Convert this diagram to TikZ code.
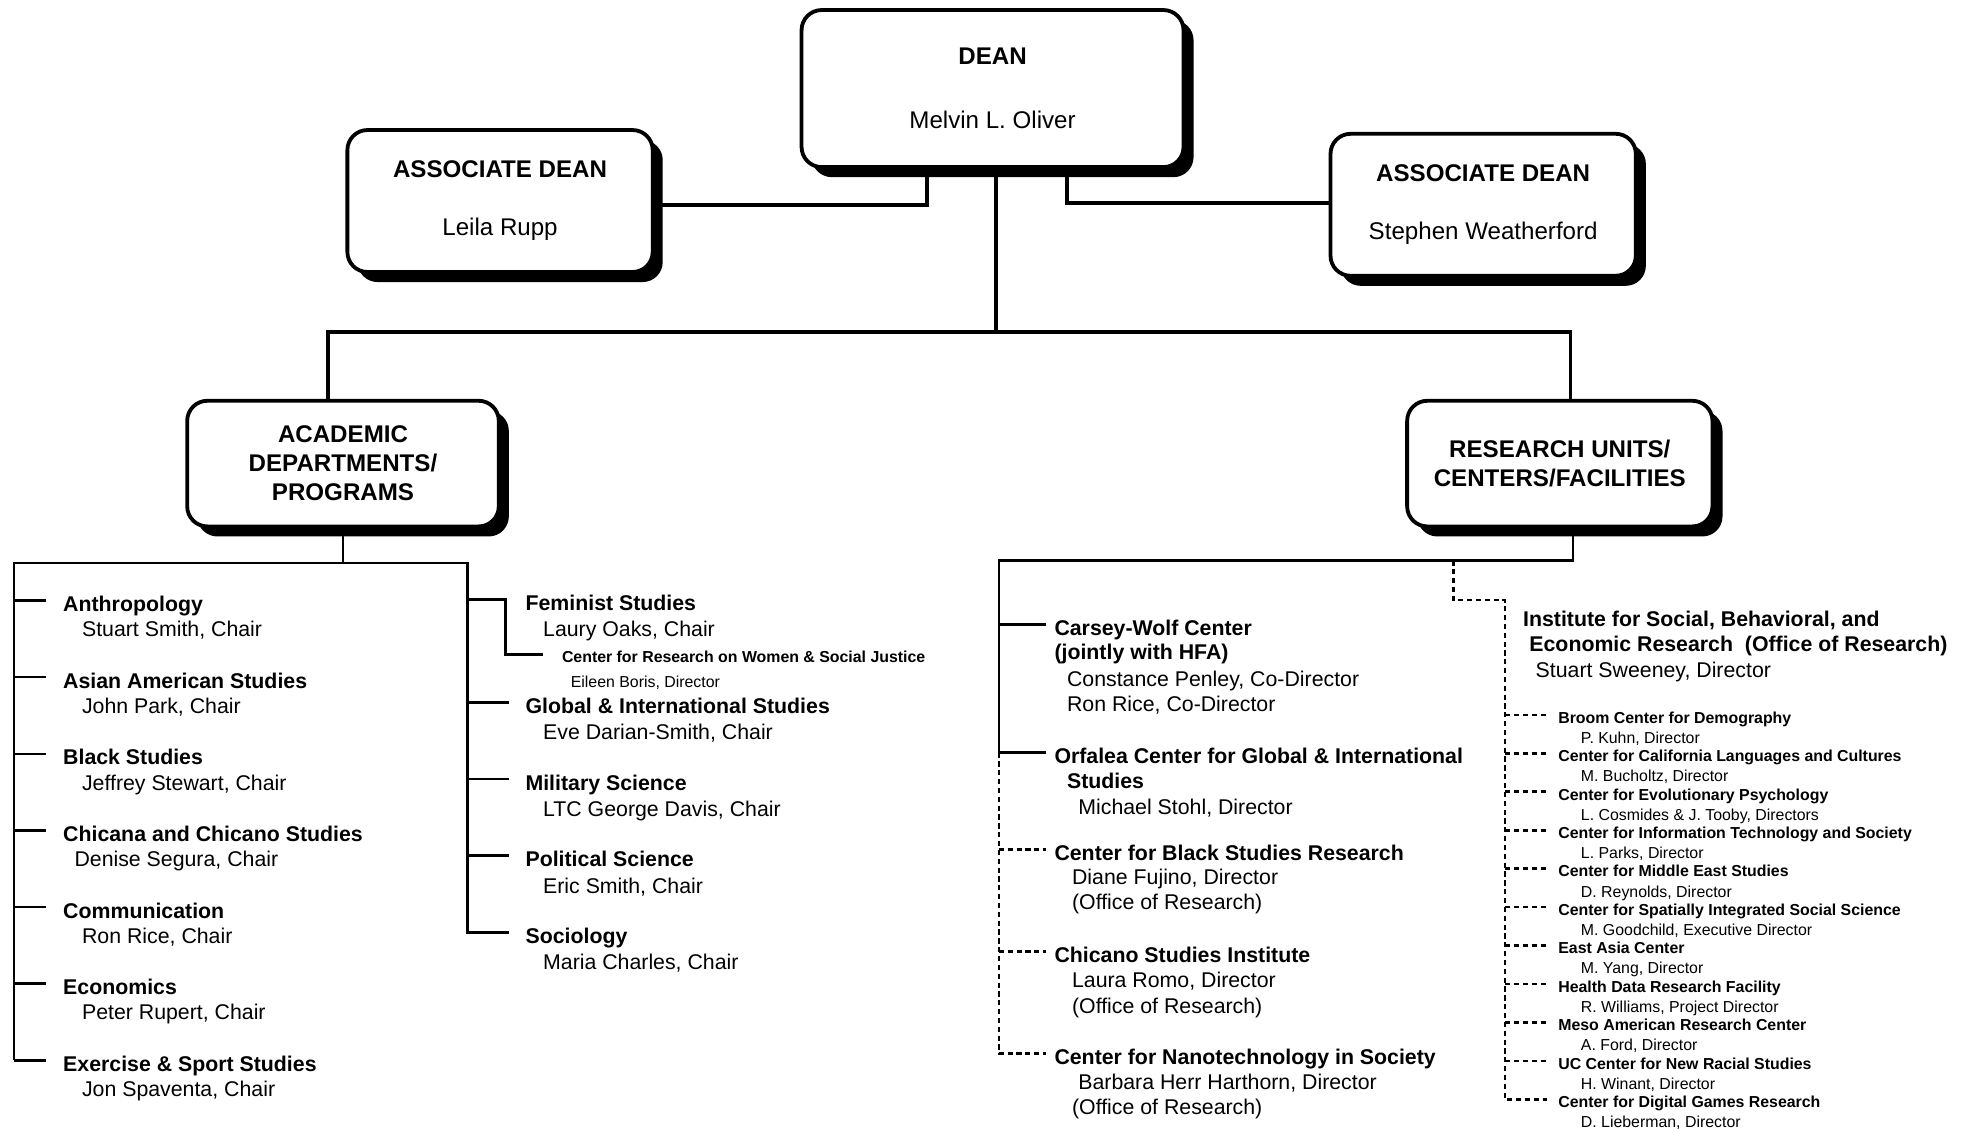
\documentclass[tikz,border=0pt]{standalone}
\usepackage{fontspec}
\setmainfont{Liberation Sans}
\usetikzlibrary{shadows,calc}

\begin{document}
\begin{tikzpicture}[x=0.625pt, y=-0.625pt,
  box/.style={draw, line width=1.9pt, fill=white, rounded corners=10pt, align=center, inner sep=0pt,
    font=\fontsize{12}{14.4}\selectfont,
    drop shadow={shadow xshift=5pt, shadow yshift=-5pt, fill=black, opacity=1}},
  link/.style={line width=1.9pt},
  tree/.style={line width=1.3pt},
  dotline/.style={line width=1.3pt, dash pattern=on 2.6pt off 1.8pt},
  unitname/.style={anchor=west, inner sep=0pt, text height=11pt, text depth=0pt, font=\fontsize{10.6}{12.7}\selectfont\bfseries},
  person/.style={unitname, font=\fontsize{10.6}{12.7}\selectfont},
  smallunit/.style={anchor=west, inner sep=0pt, text height=8.2pt, text depth=0pt, font=\fontsize{7.9}{9.5}\selectfont\bfseries},
  smallperson/.style={smallunit, font=\fontsize{7.9}{9.5}\selectfont}]
\useasboundingbox (0,0) rectangle (1568,898);
\pgfmathsetlengthmacro\unitlen{0.625pt};

\node[box, minimum width={304*\unitlen}, minimum height={125*\unitlen}] (dean) at (790,70.5) {\textbf{DEAN}\\[17.5pt]Melvin L. Oliver};
\node[box, minimum width={243*\unitlen}, minimum height={113*\unitlen}] (assocL) at (398,160) {\textbf{ASSOCIATE DEAN}\\[14.4pt]Leila Rupp};
\node[box, minimum width={243*\unitlen}, minimum height={113*\unitlen}] (assocR) at (1180.5,163) {\textbf{ASSOCIATE DEAN}\\[14.4pt]Stephen Weatherford};
\node[box, font=\fontsize{12}{14.4}\selectfont\bfseries, minimum width={248*\unitlen}, minimum height={100*\unitlen}] (acad) at (273,369) {ACADEMIC\\DEPARTMENTS/\\PROGRAMS};
\node[box, font=\fontsize{12}{14.4}\selectfont\bfseries, minimum width={243*\unitlen}, minimum height={100*\unitlen}] (research) at (1241.5,369) {RESEARCH UNITS/\\CENTERS/FACILITIES};

\coordinate (bus) at (793,264);
\coordinate (rbar) at (1252,446);
\draw[link] (dean.south -| 738,0) -- (738,163) -- (assocL.east |- 0,163);
\draw[link] (dean.south -| 849.5,0) |- (assocR.west |- 0,161.3);
\draw[link] (dean.south -| bus) -- (bus);
\draw[link] (acad.north -| 261,0) |- (bus) -| (research.north -| 1250,0);

\foreach \dept/\chair/\ind [count=\i] in {Anthropology/{Stuart Smith, Chair}/65, {Asian American Studies}/{John Park, Chair}/65,
  {Black Studies}/{Jeffrey Stewart, Chair}/65, {Chicana and Chicano Studies}/{Denise Segura, Chair}/59,
  Communication/{Ron Rice, Chair}/65, Economics/{Peter Rupert, Chair}/65, {Exercise \& Sport Studies}/{Jon Spaventa, Chair}/65} {
  \node[unitname] (dept\i) at (50,{478+61*(\i-1)}) {\dept};
  \node[person] (chair\i) at (\ind,{498+61*(\i-1)}) {\chair};
  \draw[tree] (dept\i.west -| 11,0) -- ($(dept\i.west)+(-13,0)$);
}
\foreach \dept/\chair/\y [count=\i] in {{Feminist Studies}/{Laury Oaks, Chair}/477, {Global \& International Studies}/{Eve Darian-Smith, Chair}/559,
  {Military Science}/{LTC George Davis, Chair}/620, {Political Science}/{Eric Smith, Chair}/681, Sociology/{Maria Charles, Chair}/742} {
  \node[unitname] (pgm\i) at (418,\y) {\dept};
  \node[person] (pgmchair\i) at (432,\y+21) {\chair};
}
\node[smallunit] (crwsj) at (447,521) {Center for Research on Women \& Social Justice};
\node[smallperson] (crwsjdir) at (454,541) {Eileen Boris, Director};

\draw[tree] (acad.south) -- (acad.south |- 0,448);
\draw[tree] (dept7.west -| 11,0) -- (11,448) -- (372,448) -- (pgm5.west -| 372,0) -- ($(pgm5.west)+(-13,0)$);
\draw[tree] (pgm1.west -| 372,0) -- (402.5,0 |- pgm1.west) -- (402.5,0 |- crwsj.west) -- ($(crwsj.west)+(-15,0)$);
\foreach \i in {2,3,4} \draw[tree] (pgm\i.west -| 372,0) -- ($(pgm\i.west)+(-13,0)$);

\node[unitname] (carsey) at (839,497) {Carsey-Wolf Center};
\node[unitname] (carsey2) at (839,516) {(jointly with HFA)};
\node[person] (carseydir1) at (849,537.5) {Constance Penley, Co-Director};
\node[person] (carseydir2) at (849,557.5) {Ron Rice, Co-Director};
\node[unitname] (orf) at (839,599) {Orfalea Center for Global \& International};
\node[unitname] (orf2) at (849,619) {Studies};
\node[person] (orfdir) at (858,639.5) {Michael Stohl, Director};
\node[unitname] (cbsr) at (839,676) {Center for Black Studies Research};
\node[person] (cbsrdir) at (853,695.5) {Diane Fujino, Director};
\node[person] (cbsroff) at (853,715.5) {(Office of Research)};
\node[unitname] (csi) at (839,757.5) {Chicano Studies Institute};
\node[person] (csidir) at (853,777) {Laura Romo, Director};
\node[person] (csioff) at (853,797.5) {(Office of Research)};
\node[unitname] (nano) at (839,838.5) {Center for Nanotechnology in Society};
\node[person] (nanodir) at (858,858.5) {Barbara Herr Harthorn, Director};
\node[person] (nanooff) at (853,878.5) {(Office of Research)};

\draw[tree] (research.south -| rbar) -- (rbar) -- (795,446) -- (orf.west -| 795,0) -- ($(orf.west)+(-6.5,0)$);
\draw[tree] (carsey.west -| 795,0) -- ($(carsey.west)+(-6.5,0)$);
\draw[dotline] (orf.west -| 795,0) |- ($(nano.west)+(-6.5,0)$);
\foreach \c in {cbsr,csi} \draw[dotline] (\c.west -| 795,0) -- ($(\c.west)+(-6.5,0)$);

\node[unitname] (isber) at (1212,489.5) {Institute for Social, Behavioral, and};
\node[unitname] (isber2) at (1217,509.5) {Economic Research\ \ (Office of Research)};
\node[person] (isberdir) at (1222,530.5) {Stuart Sweeney, Director};
\foreach \ctr/\dir [count=\i] in {{Broom Center for Demography}/{P. Kuhn, Director},
  {Center for California Languages and Cultures}/{M. Bucholtz, Director},
  {Center for Evolutionary Psychology}/{L. Cosmides \& J. Tooby, Directors},
  {Center for Information Technology and Society}/{L. Parks, Director},
  {Center for Middle East Studies}/{D. Reynolds, Director},
  {Center for Spatially Integrated Social Science}/{M. Goodchild, Executive Director},
  {East Asia Center}/{M. Yang, Director},
  {Health Data Research Facility}/{R. Williams, Project Director},
  {Meso American Research Center}/{A. Ford, Director},
  {UC Center for New Racial Studies}/{H. Winant, Director},
  {Center for Digital Games Research}/{D. Lieberman, Director}} {
  \node[smallunit] (isb\i) at (1240,{569+30.6*(\i-1)}) {\ctr};
  \node[smallperson] (isbdir\i) at (1258,{585+30.6*(\i-1)}) {\dir};
}
\draw[dotline] (rbar -| 1157,0) -- (1157,477.6) -| (isb11.west -| 1198,0) -- ($(isb11.west)+(-9,0)$);
\foreach \i in {1,...,10} \draw[dotline] (isb\i.west -| 1198,0) -- ($(isb\i.west)+(-9,0)$);
\end{tikzpicture}
\end{document}
